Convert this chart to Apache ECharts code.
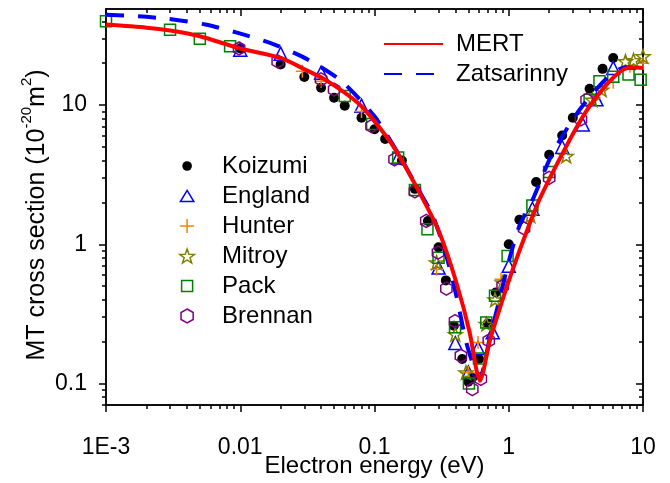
<!DOCTYPE html>
<html>
<head>
<meta charset="utf-8">
<script src="https://cdn.jsdelivr.net/npm/echarts@6/dist/echarts.min.js"></script>
<style>
  html, body { margin: 0; padding: 0; background: #fff; overflow: hidden; }
  #chart { width: 670px; height: 483px; }
</style>
</head>
<body>
<div id="chart"></div>
<script>
// theory curves [energy eV, cross section]
const mert = [
  [0.001, 37.9], [0.002, 36.0], [0.003, 34.3], [0.005, 31.2], [0.01, 25.5],
  [0.02, 21.8], [0.03, 18.1], [0.045, 14.8], [0.08, 9.8], [0.14, 4.94],
  [0.23, 2.1], [0.305, 1.21], [0.407, 0.531], [0.511, 0.233], [0.57, 0.13],
  [0.61, 0.104], [0.65, 0.125], [0.72, 0.2], [0.854, 0.342], [1.073, 0.662],
  [1.349, 1.21], [1.694, 2.1], [2.68, 5.05], [3.77, 9.0], [5.31, 13.9],
  [7.06, 17.9], [8.5, 18.6], [10, 18.5]
]
const zatsarinny = [
  [0.001, 44.5], [0.00174, 43.4], [0.0029, 41.6], [0.0055, 37.9], [0.0096, 33.0],
  [0.018, 27.2], [0.032, 21.2], [0.057, 14.8], [0.1, 8.3], [0.154, 4.3],
  [0.205, 2.62], [0.272, 1.6], [0.343, 0.824], [0.407, 0.426], [0.483, 0.197],
  [0.56, 0.125], [0.609, 0.108], [0.65, 0.13], [0.719, 0.208], [0.854, 0.403],
  [1.01, 0.78], [1.2, 1.35], [1.51, 2.1], [2.13, 4.57], [3.37, 9.25],
  [5.31, 15.4], [7.4, 18.7], [10, 18.1]
]

// measurements
const koizumi = [
  [0.01, 25.5], [0.02, 19.6], [0.03, 15.9], [0.04, 13.3], [0.05, 11.3], [0.06, 9.9],
  [0.08, 8.1], [0.1, 6.7], [0.12, 5.7], [0.16, 4.0], [0.2, 2.5], [0.25, 1.47],
  [0.3, 0.95], [0.34, 0.55], [0.39, 0.26], [0.45, 0.15], [0.5, 0.103], [0.535, 0.11],
  [0.6, 0.15], [0.7, 0.27], [0.8, 0.45], [1.0, 1.0], [1.2, 1.5], [1.6, 2.8],
  [2.0, 4.4], [2.5, 6.05], [3.0, 8.1], [4.0, 13.1], [5.0, 18.2], [6.0, 21.8]
]
const england = [
  [0.01, 25], [0.02, 23.4], [0.04, 17.1], [0.08, 9.9], [0.15, 4.2], [0.3, 0.68],
  [0.4, 0.195], [0.5, 0.12], [0.59, 0.18], [0.76, 0.233], [1.0, 0.7], [1.5, 1.8],
  [2.5, 5.0], [3.56, 7.26], [4.5, 11], [6.0, 18.5]
]
const hunter = [
  [0.029, 17.5], [0.04, 14.8], [0.08, 9.0], [0.29, 0.66], [0.5, 0.12], [0.59, 0.197],
  [0.875, 0.56], [6.0, 14.6], [8.0, 19], [10, 20]
]
const mitroy = [
  [0.29, 0.74], [0.4, 0.226], [0.48, 0.12], [0.68, 0.267], [0.79, 0.4], [0.9, 0.53],
  [1.45, 1.6], [2.68, 4.3], [4.2, 10.9], [4.93, 12.9], [7.4, 20.6], [8.5, 21], [10, 22.4]
]
const pack = [
  [0.001, 40], [0.003, 34.8], [0.005, 29.9], [0.0084, 26.5], [0.06, 11.6], [0.096, 7.3],
  [0.15, 4.2], [0.2, 2.45], [0.248, 1.28], [0.3, 0.8], [0.398, 0.253], [0.505, 0.1],
  [0.6, 0.151], [0.68, 0.274], [0.79, 0.426], [0.98, 0.824], [1.5, 1.9], [2.0, 3.3],
  [4.0, 10.9], [4.74, 14.8], [6.0, 16], [7.8, 16.6], [9.6, 15.2]
]
const brennan = [
  [0.0098, 25.5], [0.019, 20.6], [0.04, 15.3], [0.05, 12.9], [0.095, 7.06], [0.141, 4.07],
  [0.2, 2.4], [0.243, 1.47], [0.297, 0.87], [0.343, 0.48], [0.398, 0.28], [0.44, 0.158],
  [0.535, 0.091], [0.62, 0.108], [0.71, 0.203], [0.9, 0.5], [1.3, 1.3], [2.0, 3.0],
  [3.45, 7.9], [3.8, 10.9]
]

const xMajor = [0.001, 0.01, 0.1, 1, 10]
const yMajor = [0.1, 1, 10]
const xRange = [0.001, 10]
const yRange = [0.07, 49]

// minor ticks 2..9 in every decade inside the range
const minorTicks = (lo, hi) => {
  const out = []
  for (let e = -4; e <= 2; e++) {
    for (let m = 2; m <= 9; m++) {
      const v = +(m * Math.pow(10, e)).toPrecision(6)
      if (v >= lo && v <= hi) out.push(v)
    }
  }
  return out
}

const font = 'Arial, "Liberation Sans", sans-serif'
const axisColor = '#000'

const fmtX = (v) => {
  const r = +(+v).toPrecision(6)
  return r === 0.001 ? '1E-3' : String(r)
}
const fmtY = (v) => String(+(+v).toPrecision(6))

const makeAxis = (pos, range, ticks, len, inside, label) => ({
  type: 'log',
  logBase: 10,
  min: range[0],
  max: range[1],
  position: pos,
  splitLine: { show: false },
  axisLine: { show: true, onZero: false, lineStyle: { color: axisColor, width: 1.5 } },
  axisTick: {
    show: true,
    inside: inside,
    length: len,
    customValues: ticks,
    lineStyle: { color: axisColor, width: 1.5 }
  },
  axisLabel: label
    ? Object.assign({ customValues: ticks, color: '#000', fontFamily: font }, label)
    : { show: false }
})

const xBottom = makeAxis('bottom', xRange, xMajor, 7, false, { fontSize: 23, margin: 31, formatter: fmtX })
xBottom.name = 'Electron energy (eV)'
xBottom.nameLocation = 'middle'
xBottom.nameGap = 49
xBottom.nameMoveOverlap = false
xBottom.nameTextStyle = { fontSize: 24, fontFamily: font, color: '#000' }

const yLeft = makeAxis('left', yRange, yMajor, 7, false, { fontSize: 23, margin: 19, formatter: fmtY })

const open = (color) => ({ color: 'rgba(0,0,0,0)', borderColor: color, borderWidth: 1.5, opacity: 1 })

const starPath = 'path://M0,-10L2.35,-3.24L9.51,-3.09L3.8,1.24L5.88,8.09L0,4L-5.88,8.09L-3.8,1.24L-9.51,-3.09L-2.35,-3.24Z'
const hexPath = 'path://M0,-10L8.66,-5L8.66,5L0,10L-8.66,5L-8.66,-5Z'
const plusPath = 'path://M0,-10L0,10M-10,0L10,0'
// padded icons so the legend keeps them at marker size
const dotIcon = 'path://M-7,-7M7,7M-4.8,0A4.8,4.8,0,1,1,4.8,0A4.8,4.8,0,1,1,-4.8,0Z'
const squareIcon = 'path://M-7,-7M7,7M-5.5,-5.5L5.5,-5.5L5.5,5.5L-5.5,5.5Z'
const triIcon = 'path://M-7.5,-7.5M7.5,7.5M0,-6L7.2,6L-7.2,6Z'

const scatter = (name, data, symbol, size, itemStyle) => ({
  name,
  type: 'scatter',
  data,
  symbol,
  symbolSize: size,
  symbolKeepAspect: true,
  itemStyle,
  emphasis: { disabled: true }
})

const option = {
  animation: false,
  backgroundColor: '#fff',
  grid: { left: 106, right: 27, top: 9, bottom: 78, containLabel: false, outerBoundsMode: 'none' },
  xAxis: [
    xBottom,
    makeAxis('bottom', xRange, minorTicks(xRange[0], xRange[1]), 4, false, null),
    makeAxis('top', xRange, xMajor, 7, true, null),
    makeAxis('top', xRange, minorTicks(xRange[0], xRange[1]), 4, true, null)
  ],
  yAxis: [
    yLeft,
    makeAxis('left', yRange, minorTicks(yRange[0], yRange[1]), 4, false, null),
    makeAxis('right', yRange, yMajor, 7, true, null),
    makeAxis('right', yRange, minorTicks(yRange[0], yRange[1]), 4, true, null)
  ],
  legend: [
    {
      data: ['MERT', 'Zatsarinny'],
      orient: 'vertical',
      left: 383,
      top: 32,
      padding: 0,
      itemWidth: 59,
      itemHeight: 14,
      itemGap: 6,
      itemStyle: { opacity: 0 },
      textStyle: { fontSize: 24, lineHeight: 24, fontFamily: font, color: '#000', padding: [0, 0, 0, 8] }
    },
    {
      data: [
        { name: 'Koizumi', icon: dotIcon },
        { name: 'England', icon: triIcon },
        'Hunter', 'Mitroy',
        { name: 'Pack', icon: squareIcon },
        'Brennan'
      ],
      orient: 'vertical',
      left: 179,
      top: 154,
      padding: 0,
      itemWidth: 28,
      itemHeight: 14,
      itemGap: 6,
      itemStyle: { borderWidth: 1.5, opacity: 1 },
      textStyle: { fontSize: 24, lineHeight: 24, fontFamily: font, color: '#000', padding: [0, 0, 0, 16] }
    }
  ],
  graphic: [
    {
      type: 'text',
      x: 37,
      y: 215,
      rotation: Math.PI / 2,
      style: {
        text: 'MT cross section (10{sup|-20}m{sup|2})',
        fontSize: 25,
        fontFamily: font,
        fill: '#000',
        align: 'center',
        verticalAlign: 'middle',
        rich: {
          sup: { fontSize: 15, fontFamily: font, fill: '#000', verticalAlign: 'top', lineHeight: 35, padding: [0, 0, 12, 0] }
        }
      }
    }
  ],
  series: [
    scatter('Koizumi', koizumi, 'circle', 10, { color: '#000', opacity: 1 }),
    scatter('England', england, 'triangle', 13, open('#0000ff')),
    scatter('Hunter', hunter, plusPath, 13, open('#ff8000')),
    scatter('Mitroy', mitroy, starPath, 14, open('#808000')),
    scatter('Pack', pack, 'rect', 11, open('#008000')),
    scatter('Brennan', brennan, hexPath, 13, open('#800080')),
    {
      name: 'Zatsarinny',
      type: 'line',
      data: zatsarinny,
      smooth: 0.25,
      symbol: 'none',
      color: '#0000ff',
      lineStyle: { color: '#0000ff', width: 4, type: [18, 14], cap: 'butt' },
      emphasis: { disabled: true }
    },
    {
      name: 'MERT',
      type: 'line',
      data: mert,
      smooth: 0.25,
      symbol: 'none',
      color: '#ff0000',
      lineStyle: { color: '#ff0000', width: 4 },
      emphasis: { disabled: true }
    }
  ]
}

const myChart = echarts.init(document.getElementById('chart'))
option && myChart.setOption(option)
</script>
</body>
</html>
